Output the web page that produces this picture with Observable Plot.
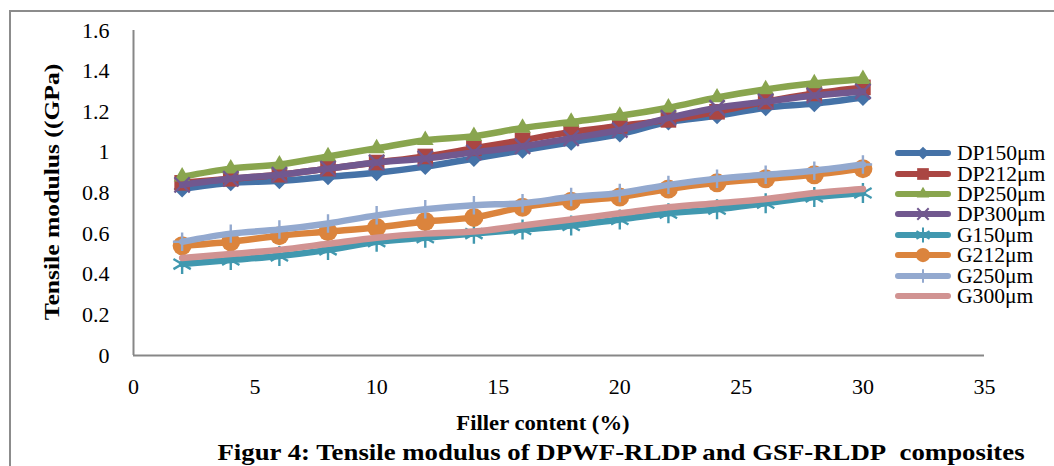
<!DOCTYPE html>
<html>
<head>
<meta charset="utf-8">
<script src="https://cdn.jsdelivr.net/npm/d3@7"></script>
<script src="https://cdn.jsdelivr.net/npm/@observablehq/plot@0.6"></script>
<style>
  html, body { margin: 0; padding: 0; background: #fff; }
  #wrap { position: relative; width: 1054px; height: 466px; overflow: hidden; font-family: "Liberation Serif", "Times New Roman", serif; }
  #frame { position: absolute; left: 9px; top: 10px; width: 1200px; height: 600px; border: 2px solid #8c8c8c; box-sizing: border-box; }
  #chart { position: absolute; left: 0; top: 0; }
  .t { position: absolute; white-space: nowrap; color: #000; font-weight: bold; line-height: 1; }
  #ytitle { left: 52px; top: 192px; font-size: 21px; transform: translate(-50%, -50%) rotate(-90deg) scaleX(1.22); }
  #xtitle { left: 543px; top: 423px; font-size: 22px; transform: translate(-50%, -50%) scaleX(1.03); }
  #caption { left: 621px; top: 452px; font-size: 23px; transform: translate(-50%, -50%) scaleX(1.165); }
  #legend { position: absolute; left: 893px; top: 143px; }
  .row { display: flex; align-items: center; height: 20.4px; }
  .row span { font-size: 18px; margin-left: 4px; line-height: 18px; display: inline-block; transform: scale(1.2, 1.12); transform-origin: left center; }
</style>
</head>
<body>
<div id="wrap">
  <div id="frame"></div>
  <div id="chart"></div>
  <div class="t" id="ytitle">Tensile modulus ((GPa)</div>
  <div class="t" id="xtitle">Filler content (%)</div>
  <div class="t" id="caption">Figur 4: Tensile modulus of DPWF-RLDP and GSF-RLDP&nbsp; composites</div>
  <div id="legend"></div>
</div>
<script>
// ---- data ----
const fillerContent = [2, 4, 6, 8, 10, 12, 14, 16, 18, 20, 22, 24, 26, 28, 30];
const DP150 = [0.82, 0.85, 0.86, 0.88, 0.90, 0.93, 0.97, 1.01, 1.05, 1.09, 1.15, 1.18, 1.22, 1.24, 1.27];
const DP212 = [0.85, 0.87, 0.89, 0.92, 0.95, 0.98, 1.02, 1.06, 1.10, 1.13, 1.16, 1.20, 1.25, 1.29, 1.32];
const DP250 = [0.88, 0.92, 0.94, 0.98, 1.02, 1.06, 1.08, 1.12, 1.15, 1.18, 1.22, 1.27, 1.31, 1.34, 1.36];
const DP300 = [0.84, 0.87, 0.89, 0.92, 0.95, 0.97, 1.00, 1.03, 1.07, 1.11, 1.17, 1.22, 1.25, 1.28, 1.30];
const G150  = [0.45, 0.47, 0.49, 0.52, 0.56, 0.58, 0.60, 0.62, 0.64, 0.67, 0.70, 0.72, 0.75, 0.78, 0.80];
const G212  = [0.54, 0.56, 0.59, 0.61, 0.63, 0.66, 0.68, 0.73, 0.76, 0.78, 0.82, 0.85, 0.87, 0.89, 0.92];
const G250  = [0.56, 0.60, 0.62, 0.65, 0.69, 0.72, 0.74, 0.75, 0.78, 0.80, 0.84, 0.87, 0.89, 0.91, 0.94];
const G300  = [0.48, 0.50, 0.52, 0.55, 0.58, 0.60, 0.61, 0.64, 0.67, 0.70, 0.73, 0.75, 0.77, 0.80, 0.82];
const seriesNames = ["DP150μm", "DP212μm", "DP250μm", "DP300μm", "G150μm", "G212μm", "G250μm", "G300μm"];
const seriesValues = [DP150, DP212, DP250, DP300, G150, G212, G250, G300];
const xTicks = [0, 5, 10, 15, 20, 25, 30, 35];
const yTicks = [0, 0.2, 0.4, 0.6, 0.8, 1, 1.2, 1.4, 1.6];

// ---- styles ----
const colors = ["#4572A7", "#AA4643", "#89A54E", "#71588F", "#4198AF", "#DB843D", "#93A9CF", "#D19392"];
const serif = "Liberation Serif, Times New Roman, serif";
const rotSquare = { draw(ctx, size) { const h = Math.sqrt(size / Math.PI); ctx.moveTo(0, -h); ctx.lineTo(h, 0); ctx.lineTo(0, h); ctx.lineTo(-h, 0); ctx.closePath(); } };
const markers = [
  { symbol: rotSquare, r: 8.5, fill: true },
  { symbol: "square", r: 8.8, fill: true },
  { symbol: "triangle", r: 6.2, fill: true },
  { symbol: "times", r: 7, fill: false },
  { symbol: "asterisk", r: 9.5, fill: false },
  { symbol: "circle", r: 9.5, fill: true },
  { symbol: "plus", r: 6, fill: false },
  null
];

const rows = [];
seriesNames.forEach((name, i) => {
  seriesValues[i].forEach((v, j) => rows.push({ series: name, idx: i, x: fillerContent[j], y: v }));
});

const marks = [
  Plot.ruleY([0], { stroke: "#878787", strokeWidth: 2 }),
  Plot.ruleX([0], { stroke: "#878787", strokeWidth: 2 }),
  Plot.text(yTicks, { x: 0, y: d => d, text: d => String(+d.toFixed(1)), textAnchor: "end", dx: -24, fontFamily: serif, fontSize: 22, fill: "#000" }),
  Plot.text(xTicks, { x: d => d, y: 0, text: d => String(d), dy: 31, fontFamily: serif, fontSize: 22, fill: "#000" })
];
seriesNames.forEach((name, i) => {
  const data = rows.filter(d => d.idx === i);
  marks.push(Plot.line(data, { x: "x", y: "y", stroke: colors[i], strokeWidth: 6.5, curve: "monotone-x", strokeLinecap: "round", strokeLinejoin: "round" }));
  const m = markers[i];
  if (m) {
    marks.push(Plot.dot(data, m.fill
      ? { x: "x", y: "y", symbol: () => m.symbol, r: m.r, fill: colors[i], stroke: "none" }
      : { x: "x", y: "y", symbol: () => m.symbol, r: m.r, fill: "none", stroke: colors[i], strokeWidth: 2.4 }));
  }
});

const chart = Plot.plot({
  width: 1054,
  height: 466,
  marginLeft: 133,
  marginTop: 30,
  marginBottom: 111,
  marginRight: 70,
  style: { background: "transparent", color: "#000" },
  symbol: { type: "identity" },
  x: { domain: [0, 35], axis: null },
  y: { domain: [0, 1.6], axis: null },
  marks
});
document.getElementById("chart").appendChild(chart);

// ---- legend ----
const legend = d3.select("#legend");
seriesNames.forEach((name, i) => {
  const row = legend.append("div").attr("class", "row");
  const svg = row.append("svg").attr("width", 60).attr("height", 20);
  svg.append("line").attr("x1", 5).attr("x2", 55).attr("y1", 10).attr("y2", 10)
    .attr("stroke", colors[i]).attr("stroke-width", 6).attr("stroke-linecap", "round");
  const m = markers[i];
  if (m) {
    const typ = typeof m.symbol === "string" ? ({ square: d3.symbolSquare, triangle: d3.symbolTriangle, times: d3.symbolTimes, asterisk: d3.symbolAsterisk, circle: d3.symbolCircle, plus: d3.symbolPlus })[m.symbol] : m.symbol;
    const rr = m.r * 0.75;
    svg.append("path").attr("transform", "translate(30,10)")
      .attr("d", d3.symbol(typ, Math.PI * rr * rr)())
      .attr("fill", m.fill ? colors[i] : "none")
      .attr("stroke", m.fill ? "none" : colors[i]).attr("stroke-width", 2);
  }
  row.append("span").text(name);
});
</script>
</body>
</html>
